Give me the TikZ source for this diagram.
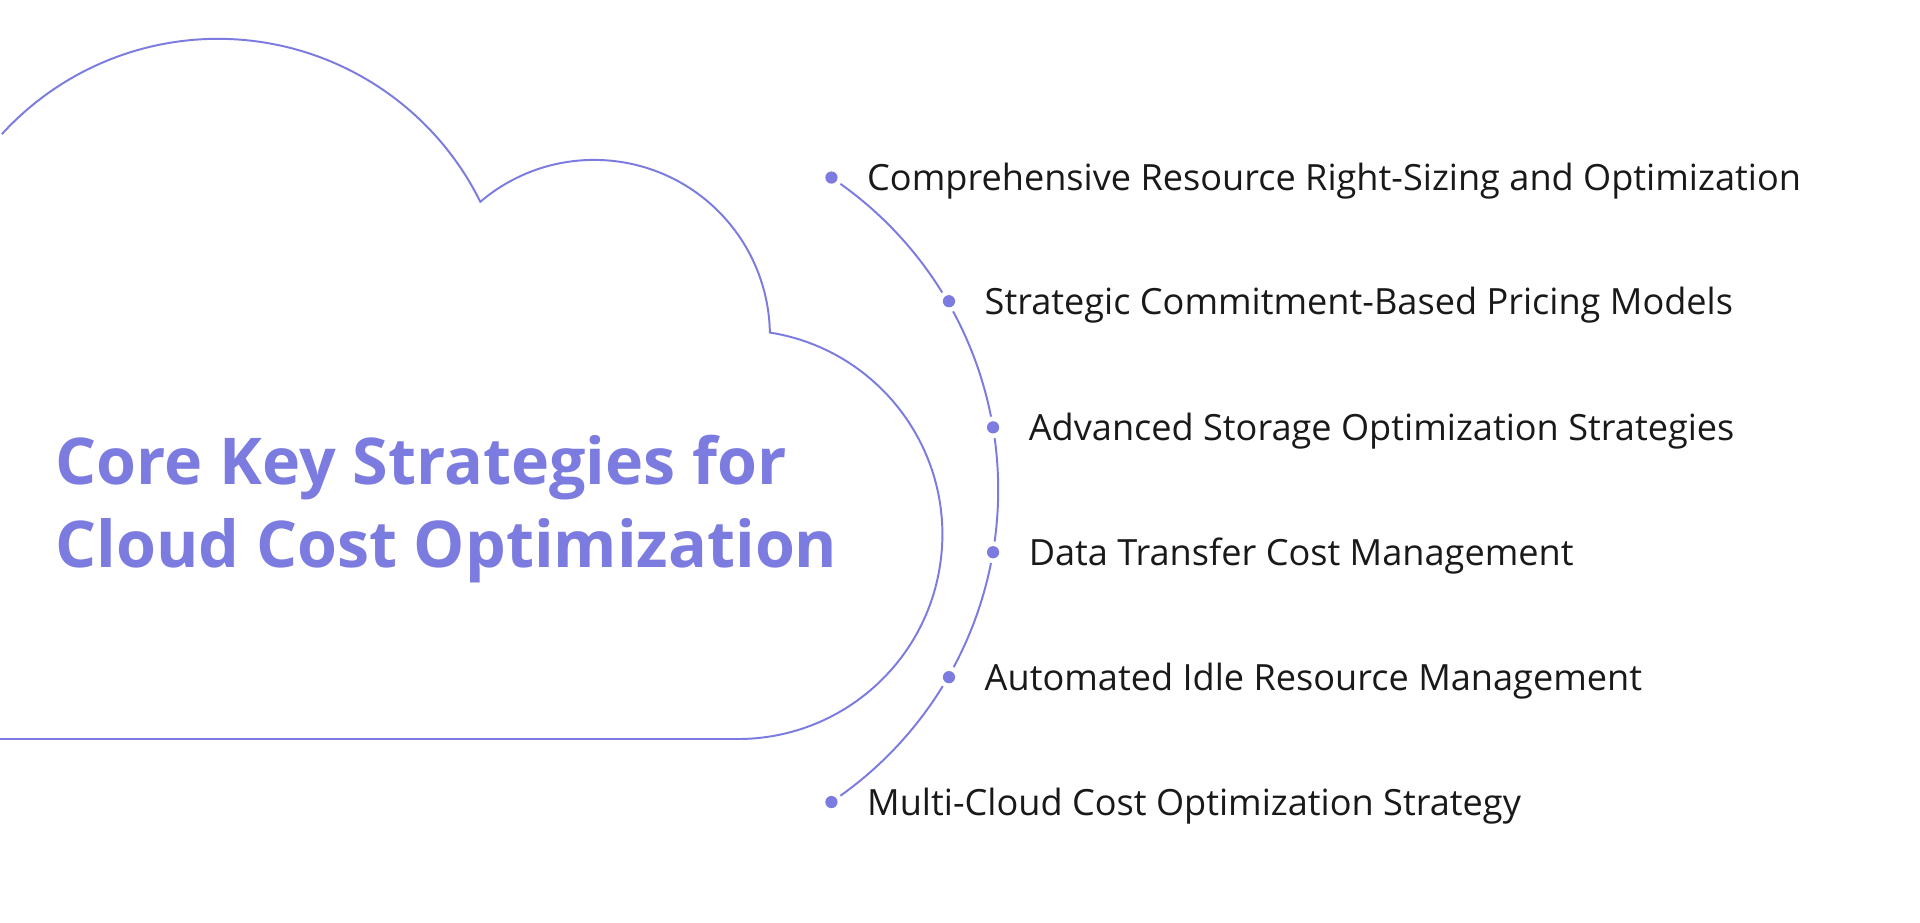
\documentclass[tikz,border=0pt]{standalone}
\usepackage{fontspec}
\setmainfont{Open Sans}
\definecolor{lav}{HTML}{7B7BE0}
\begin{document}
\begin{tikzpicture}[x=1pt,y=1pt,
  dot/.style={circle,fill=lav,inner sep=0pt,minimum size=10pt},
  lbl/.style={anchor=west,inner sep=0pt,text=black!90,font=\fontsize{29.5}{33}\selectfont}]
\useasboundingbox (0,0) rectangle (1568,753);
\clip (0,0) rectangle (1568,753);
\draw[lav,line width=1.6pt] (178,482.3) ++(137.6:239) arc[start angle=137.6,end angle=26.3,radius=239]
  arc[start angle=130.4,end angle=1,radius=143.5]
  arc[start angle=81,end angle=-90,radius=167] -- (-5,149.5);
\draw[lav,line width=1.6pt] (508.5,353)++(56.2:306.7) arc[start angle=56.2,end angle=-56.2,radius=306.7];
\foreach \n/\x/\y in {1/679/145,2/775/246,3/811/349,4/811/451,5/775/553,6/679/655}{
  \fill[white] (\x,753-\y) circle (9);
  \node[dot] (d\n) at (\x,753-\y) {};
}
\node[lbl] (t1) at (708,750-145) {Comprehensive Resource Right-Sizing and Optimization};
\node[lbl] (t2) at (804,750-246) {Strategic Commitment-Based Pricing Models};
\node[lbl] (t3) at (840,750-349) {Advanced Storage Optimization Strategies};
\node[lbl] (t4) at (840,750-451) {Data Transfer Cost Management};
\node[lbl] (t5) at (804,750-553) {Automated Idle Resource Management};
\node[lbl] (t6) at (708,750-655) {Multi-Cloud Cost Optimization Strategy};
\node[anchor=west,inner sep=0pt,align=left,text=lav,font=\fontsize{52.7}{68}\selectfont\bfseries] (title) at (45,753-416) {Core Key Strategies for\\Cloud Cost Optimization};
\end{tikzpicture}
\end{document}
